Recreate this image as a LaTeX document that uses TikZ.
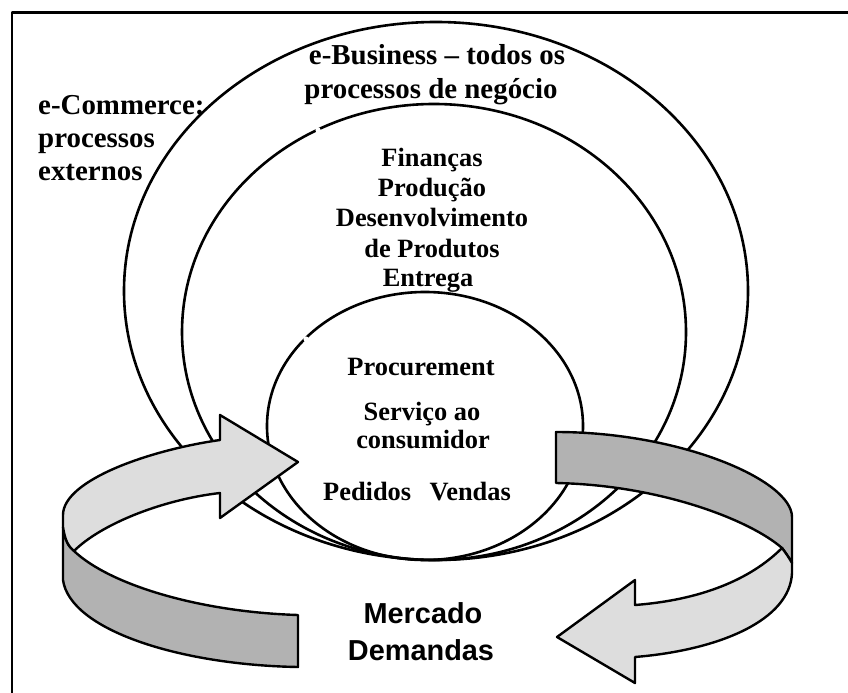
\documentclass[tikz,border=0pt]{standalone}
\usepackage{fontspec}
\setmainfont{Liberation Serif}
\setsansfont{Liberation Sans}
\definecolor{ribbonlight}{HTML}{DDDDDD}
\definecolor{ribbondark}{HTML}{B2B2B2}
\begin{document}
\begin{tikzpicture}[x=1bp,y=-1bp,line join=round,
  ring/.style={line width=2.6bp},
  band/.style={draw=black,line width=2.4bp,line join=round},
  lightface/.style={band,fill=ribbonlight},
  darkface/.style={band,fill=ribbondark},
  notch/.style={fill=white,draw=none},
  outerlbl/.style={font=\fontsize{29}{33}\selectfont\bfseries,inner sep=0pt,anchor=base},
  innerlbl/.style={font=\fontsize{26.5}{30}\selectfont\bfseries,inner sep=0pt,anchor=base},
  marketlbl/.style={font=\sffamily\bfseries\fontsize{29}{37}\selectfont,inner sep=0pt,anchor=base}]
\useasboundingbox (0,0) rectangle (848,693);
\clip (0,0) rectangle (848,693);

% frame (open towards the right and bottom)
\draw[line width=2.2bp] (12,720) -- (12,12.5) -- (870,12.5);

% nested process areas, all touching at the bottom
\draw[ring] (436,291) ellipse [x radius=312bp, y radius=269bp];
\draw[ring] (434,332) ellipse [x radius=252bp, y radius=228bp];
\draw[ring] (425,426) ellipse [x radius=158bp, y radius=134bp];

% small breaks in the two inner outlines
\path[notch] (318,130) circle [radius=2.6bp];
\path[notch] (306,339) circle [radius=2.6bp];

% left ribbon arrow (market -> company)
\path[darkface] (63,527) -- (63,580) .. controls (70,630) and (180,665) .. (298,667)
  -- (298,615) .. controls (200,612) and (110,585) .. (74,551)
  .. controls (68,546) and (65,540) .. (63,527) -- cycle;
\path[lightface] (298,462) -- (220,415) -- (220,440)
  .. controls (150,450) and (63,480) .. (63,515) -- (63,527)
  .. controls (65,540) and (68,546) .. (74,551)
  .. controls (100,525) and (160,500) .. (220,493) -- (220,518) -- cycle;

% right ribbon arrow (company -> market)
\path[darkface] (556,432) .. controls (680,432) and (792,480) .. (792,517) -- (792,563)
  .. controls (788,556) and (785,552) .. (782,548)
  .. controls (750,520) and (660,485) .. (556,483) -- cycle;
\path[lightface] (782,548) .. controls (785,552) and (788,556) .. (792,563) -- (792,573)
  .. controls (790,620) and (720,650) .. (635,657) -- (635,683) -- (557,637)
  -- (635,580) -- (635,605) .. controls (700,600) and (750,580) .. (782,548) -- cycle;

% labels
\node[outerlbl,anchor=base west] (ec1) at (38,115) {e-Commerce:};
\node[outerlbl,anchor=base west] (ec2) at (38,147.5) {processos};
\node[outerlbl,anchor=base west] (ec3) at (38,180) {externos};

\node[outerlbl] (eb1) at (437,65) {e-Business – todos os};
\node[outerlbl] (eb2) at (431,99) {processos de negócio};

\node[innerlbl] (in1) at (432,167) {Finanças};
\node[innerlbl] (in2) at (432,196) {Produção};
\node[innerlbl] (in3) at (432,226) {Desenvolvimento};
\node[innerlbl] (in4) at (432,257) {de Produtos};
\node[innerlbl] (in5) at (428,286) {Entrega};

\node[innerlbl] (ex1) at (421,375) {Procurement};
\node[innerlbl] (ex2) at (422,420) {Serviço ao};
\node[innerlbl] (ex3) at (423,448) {consumidor};
\node[innerlbl] (ex4) at (417,500) {Pedidos\hspace{0.7em}Vendas};

\node[marketlbl] (mk1) at (423,623) {Mercado};
\node[marketlbl] (mk2) at (421,660) {Demandas};
\end{tikzpicture}
\end{document}
